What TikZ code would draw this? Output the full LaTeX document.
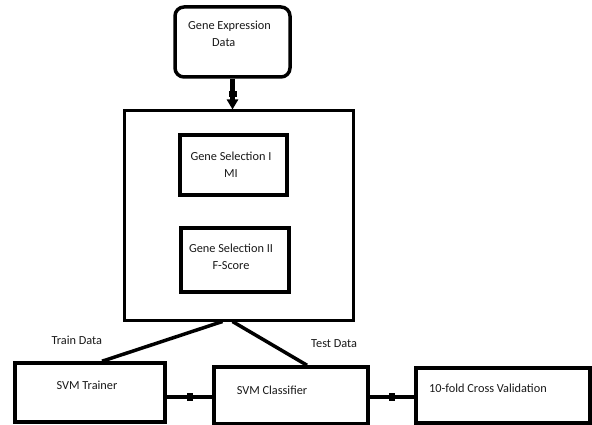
\documentclass[tikz,border=0pt]{standalone}
\usepackage{fontspec}
\setmainfont{Carlito}
\usetikzlibrary{positioning,arrows.meta,decorations.markings}

\begin{document}
\begin{tikzpicture}[x=1pt,y=-1pt,font=\fontsize{12.3}{17}\selectfont,
  box/.style={draw,line width=3.5pt,inner sep=0pt},
  txt/.style={text=black!90,inner sep=0pt,align=center},
  link/.style={line width=4pt,postaction={decorate},
    decoration={markings,mark=at position .5 with {\fill (-3pt,-4pt) rectangle (3pt,4pt);}}}]
\useasboundingbox[fill=white] (0,0) rectangle (592,425);
% input and feature selection
\node[box,line width=3.5pt,rounded corners=9pt,minimum width=115,minimum height=70] (gexp) at (232.5,42) {};
\node[txt,align=left] (gexp-t) at (229.5,33.5) {Gene Expression\\\hspace*{24pt}Data};
\node[box,line width=3pt,minimum width=229,minimum height=209] (sel) at (238.5,215.5) {};
\node[box,line width=4pt,minimum width=107,minimum height=60] (sel1) at (233.5,165) {};
\node[txt] (sel1-t) at (231,164.5) {Gene Selection I\\MI};
\node[box,line width=4pt,minimum width=108,minimum height=64] (sel2) at (235,260) {};
\node[txt] (sel2-t) at (231,256.5) {Gene Selection II\\F-Score};
% svm part
\node[box,minimum width=150,minimum height=59] (trainer) at (90,392.5) {};
\node[txt] (trainer-t) at (87,385) {SVM Trainer};
\node[box,minimum width=154,minimum height=57] (classifier) at (291,395.5) {};
\node[txt] (classifier-t) at (272,390) {SVM Classifier};
\node[box,minimum width=174,minimum height=55] (cv) at (503,395.5) {};
\node[txt] (cv-t) at (488,388) {10-fold Cross Validation};
\draw[link,line width=4.5pt,-{Triangle[width=11pt,length=10pt]}] (gexp.south) -- (gexp.south |- sel.north);
\draw[line width=3.5pt] ([xshift=-16pt]sel.south) -- node[txt,pos=.62,above left=0pt and 44pt]{Train Data} ([xshift=12pt]trainer.north);
\draw[line width=3.5pt] ([xshift=-6pt]sel.south) -- node[txt,pos=.55,above right=-4pt and 36pt]{Test Data} ([xshift=16pt]classifier.north);
\draw[link,line width=4.5pt] ([yshift=-4.5pt]trainer.east) coordinate (t1) -- (t1 -| classifier.west);
\draw[link,line width=3.5pt] ([yshift=-1.5pt]classifier.east) coordinate (c1) -- (c1 -| cv.west);
\end{tikzpicture}
\end{document}
